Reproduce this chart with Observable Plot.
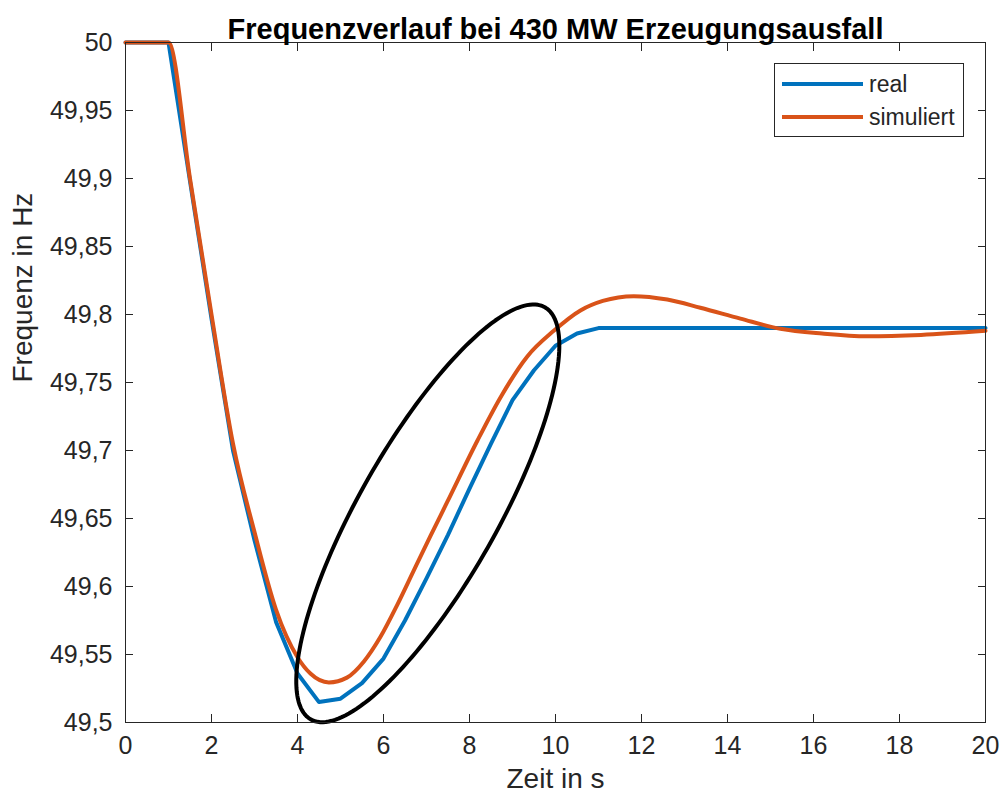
<!DOCTYPE html>
<html>
<head>
<meta charset="utf-8">
<script src="https://cdn.jsdelivr.net/npm/d3@7"></script>
<script src="https://cdn.jsdelivr.net/npm/@observablehq/plot@0.6"></script>
<style>
  html, body { margin: 0; padding: 0; background: #fff; }
  body { font-family: "Liberation Sans", Arial, sans-serif; }
  #wrap { position: relative; width: 1003px; height: 803px; }
  #legend { position: absolute; left: 774px; top: 63px; width: 190px; height: 74px;
            border: 1px solid #262626; background: #fff; box-sizing: border-box; }
  #legend .row { position: absolute; left: 7px; height: 30px; display: flex; align-items: center;
                 font-size: 23px; color: #262626; }
  #legend .row svg { margin-right: 6px; }
</style>
</head>
<body>
<div id="wrap"><div id="legend"></div></div>
<script>
// ---- data ----
const titleText = "Frequenzverlauf bei 430 MW Erzeugungsausfall";
const xLabel = "Zeit in s";
const yLabel = "Frequenz in Hz";
const seriesNames = ["real", "simuliert"];
const seriesColors = ["#0072BD", "#D95319"];

const realT = [0, 1, 1.5, 2, 2.5, 3, 3.5, 4, 4.5, 5, 5.5, 6, 6.5, 7, 7.5, 8, 8.5, 9, 9.5, 10, 10.5, 11, 20];
const realF = [50, 50, 49.898, 49.797, 49.700, 49.634, 49.574, 49.536, 49.515, 49.5175, 49.529, 49.547, 49.575, 49.606, 49.638, 49.672, 49.705, 49.737, 49.759, 49.777, 49.786, 49.790, 49.790];

const simT = [0, 1, 1.5, 2, 2.5, 3, 3.5, 4, 4.3, 4.73, 5.15, 5.54, 5.93, 6.32, 6.70, 7.09, 7.48, 8.18, 8.72, 9.34, 9.96, 10.58, 11.1, 11.82, 12.6, 13.37, 14.3, 15.23, 16.2, 17.25, 18.5, 20];
const simF = [50, 50, 49.900, 49.800, 49.705, 49.640, 49.583, 49.548, 49.536, 49.5295, 49.533, 49.5447, 49.563, 49.5865, 49.6115, 49.637, 49.662, 49.707, 49.739, 49.769, 49.788, 49.803, 49.810, 49.8135, 49.811, 49.805, 49.797, 49.7895, 49.786, 49.784, 49.785, 49.788];

const xTicks = [0, 2, 4, 6, 8, 10, 12, 14, 16, 18, 20];
const yTicks = [49.5, 49.55, 49.6, 49.65, 49.7, 49.75, 49.8, 49.85, 49.9, 49.95, 50];

// annotation ellipse (center in data units, axes in px, angle in degrees)
const ellipseCenter = {t: 7.03, f: 49.6538};
const ellipseAxes = {a: 237, b: 69, angle: 60.4};

// ---- build ----
const W = 1003, H = 803, mL = 125, mR = 18, mT = 42, mB = 81;
const xDomain = [0, 20], yDomain = [49.5, 50];
const pxPerX = (W - mL - mR) / (xDomain[1] - xDomain[0]);
const pxPerY = (H - mT - mB) / (yDomain[1] - yDomain[0]);

const realData = realT.map((t, i) => ({t, f: realF[i]}));
const simData = simT.map((t, i) => ({t, f: simF[i]}));

const phi = ellipseAxes.angle * Math.PI / 180;
const ellipsePts = d3.range(0, 360, 2).map(deg => {
  const th = deg * Math.PI / 180;
  const dx = ellipseAxes.a * Math.cos(th) * Math.cos(phi) - ellipseAxes.b * Math.sin(th) * Math.sin(phi);
  const dy = ellipseAxes.a * Math.cos(th) * Math.sin(phi) + ellipseAxes.b * Math.sin(th) * Math.cos(phi);
  return {t: ellipseCenter.t + dx / pxPerX, f: ellipseCenter.f + dy / pxPerY};
});

const fmt = d => String(+d.toFixed(2)).replace(".", ",");
const axisColor = "#262626";
const font = "Liberation Sans, Arial, sans-serif";

const chart = Plot.plot({
  width: W, height: H,
  marginLeft: mL, marginRight: mR, marginTop: mT, marginBottom: mB,
  style: {fontFamily: font, color: axisColor, background: "#fff"},
  x: {domain: xDomain},
  y: {domain: yDomain},
  marks: [
    // inward ticks on all sides
    Plot.axisX(xTicks, {anchor: "bottom", tickSize: -8, fill: "none", stroke: axisColor, label: null}),
    Plot.axisX(xTicks, {anchor: "top", tickSize: -8, fill: "none", stroke: axisColor, label: null}),
    Plot.axisY(yTicks, {anchor: "left", tickSize: -8, fill: "none", stroke: axisColor, label: null}),
    Plot.axisY(yTicks, {anchor: "right", tickSize: -8, fill: "none", stroke: axisColor, label: null}),
    // tick labels
    Plot.axisX(xTicks, {anchor: "bottom", tickSize: 0, tickPadding: 14, fontSize: 25, fill: axisColor, tickFormat: fmt, label: null}),
    Plot.axisY(yTicks, {anchor: "left", tickSize: 0, tickPadding: 13, fontSize: 25, fill: axisColor, tickFormat: fmt, label: null}),
    // series
    Plot.line(realData, {x: "t", y: "f", stroke: seriesColors[0], strokeWidth: 4}),
    Plot.line(simData, {x: "t", y: "f", stroke: seriesColors[1], strokeWidth: 4, curve: "monotone-x"}),
    // annotation ellipse
    Plot.line(ellipsePts, {x: "t", y: "f", stroke: "black", strokeWidth: 4, curve: "linear-closed"}),
    Plot.frame({stroke: axisColor, strokeWidth: 1}),
    // texts
    Plot.text([titleText], {frameAnchor: "top", dy: -24, fontSize: 29, fontWeight: "bold", fill: "#000"}),
    Plot.text([xLabel], {frameAnchor: "bottom", dy: 65, fontSize: 28, fill: axisColor}),
    Plot.text([yLabel], {frameAnchor: "left", dx: -102, rotate: -90, fontSize: 28, fill: axisColor})
  ]
});
document.getElementById("wrap").prepend(chart);

// legend
const legend = document.getElementById("legend");
seriesNames.forEach((name, i) => {
  const row = document.createElement("div");
  row.className = "row";
  row.style.top = (5 + i * 33) + "px";
  row.innerHTML = `<svg width="81" height="6"><line x1="0" y1="3" x2="81" y2="3" stroke="${seriesColors[i]}" stroke-width="4"/></svg><span>${name}</span>`;
  legend.appendChild(row);
});
</script>
</body>
</html>
